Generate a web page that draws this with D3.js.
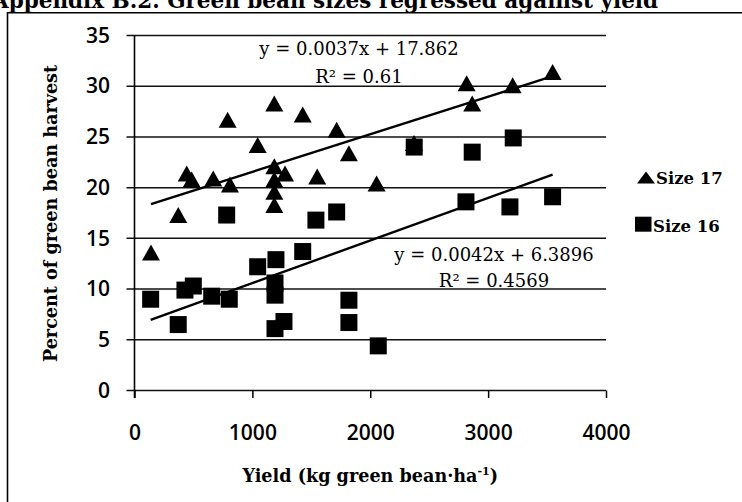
<!DOCTYPE html>
<html>
<head>
<meta charset="utf-8">
<script src="https://cdn.jsdelivr.net/npm/d3@7"></script>
<style>
  html, body { margin: 0; padding: 0; background: #fff; }
  svg { display: block; }
</style>
</head>
<body>
<svg id="chart" width="742" height="502"></svg>
<script>
// Size 17 beans: yield (kg/ha) and percent of harvest
const yieldSize17 = [140, 371, 443, 485, 668, 790, 810, 1045, 1186, 1186, 1186, 1186, 1186, 1277, 1427, 1550, 1715, 1819, 2054, 2371, 2818, 2865, 3208, 3547];
const pctSize17   = [13.6, 17.3, 21.4, 20.8, 20.9, 26.7, 20.3, 24.2, 28.3, 22.1, 20.8, 19.6, 18.3, 21.4, 27.2, 21.1, 25.7, 23.4, 20.4, 24.4, 30.3, 28.3, 30.1, 31.4];

// Size 16 beans
const yieldSize16 = [137, 371, 428, 499, 655, 782, 804, 1045, 1192, 1192, 1192, 1200, 1268, 1427, 1539, 1715, 1819, 1819, 2068, 2373, 2812, 2865, 3185, 3213, 3547];
const pctSize16   = [9.0, 6.5, 9.9, 10.3, 9.3, 17.3, 9.0, 12.2, 10.6, 9.4, 6.1, 12.9, 6.8, 13.7, 16.8, 17.6, 8.9, 6.7, 4.4, 24.0, 18.6, 23.5, 18.1, 24.9, 19.1];

// Linear trend fits: [slope, intercept, R²]
const fitSize17 = [0.0037, 17.862, 0.61];
const fitSize16 = [0.0042, 6.3896, 0.4569];

const xTicks = [0, 1000, 2000, 3000, 4000];
const yTicks = [0, 5, 10, 15, 20, 25, 30, 35];

const seriesNames = ["Size 17", "Size 16"];

const svg = d3.select("#chart");
const W = 742, H = 502;

// Page title (runs off the top edge) and chart frame
svg.append("text")
  .attr("x", -8).attr("y", 8)
  .attr("font-family", "DejaVu Serif").attr("font-weight", "bold")
  .attr("font-size", 21.5).attr("fill", "#000")
  .text("Appendix B.2. Green bean sizes regressed against yield");

svg.append("path")
  .attr("d", `M7.5,${H} L7.5,12.7 L${W},12.7`)
  .attr("fill", "none").attr("stroke", "#000").attr("stroke-width", 1.6);

const plot = { left: 134.5, right: 606, top: 35.5, bottom: 390.5 };

const x = d3.scaleLinear().domain([0, 4000]).range([plot.left, plot.right]);
const y = d3.scaleLinear().domain([0, 35]).range([plot.bottom, plot.top]);

const g = svg.append("g");

// Horizontal gridlines (extend a little past the axis like tick marks)
g.selectAll("line.grid").data(yTicks).join("line")
  .attr("class", "grid")
  .attr("x1", plot.left - 8).attr("x2", plot.right)
  .attr("y1", d => y(d)).attr("y2", d => y(d))
  .attr("stroke", "#111").attr("stroke-width", 1.5);

// Y axis labels
const yAxis = g.append("g")
  .attr("transform", `translate(${plot.left},0)`)
  .call(d3.axisLeft(y).tickValues(yTicks).tickSize(0).tickPadding(24.5));
yAxis.select(".domain").remove();
yAxis.selectAll("text")
  .attr("font-family", "Open Sans").attr("font-weight", 600)
  .attr("font-size", 21).attr("fill", "#000");

// Y axis line
g.append("line")
  .attr("x1", plot.left).attr("x2", plot.left)
  .attr("y1", plot.top).attr("y2", plot.bottom + 7.5)
  .attr("stroke", "#000").attr("stroke-width", 1.6);

// X axis ticks and labels
const xAxis = g.append("g")
  .attr("transform", `translate(0,${plot.bottom})`)
  .call(d3.axisBottom(x).tickValues(xTicks).tickFormat(d3.format("d")).tickSize(7.5));
xAxis.select(".domain").remove();
xAxis.selectAll(".tick line").attr("stroke", "#000").attr("stroke-width", 1.5);
xAxis.selectAll("text")
  .attr("dy", null).attr("y", 49.5)
  .attr("font-family", "Open Sans").attr("font-weight", 600)
  .attr("font-size", 21).attr("fill", "#000");

// Axis titles
svg.append("text")
  .attr("transform", `translate(57,213.5) rotate(-90)`)
  .attr("text-anchor", "middle")
  .attr("font-family", "DejaVu Serif").attr("font-weight", "bold")
  .attr("font-size", 17.6).attr("fill", "#000")
  .text("Percent of green bean harvest");

const xt = svg.append("text")
  .attr("x", (plot.left + plot.right) / 2).attr("y", 481.5)
  .attr("text-anchor", "middle")
  .attr("font-family", "DejaVu Serif").attr("font-weight", "bold")
  .attr("font-size", 17.6).attr("fill", "#000");
xt.append("tspan").text("Yield (kg green bean\u00B7ha");
xt.append("tspan").attr("dy", -7).attr("font-size", 11).text("-1");
xt.append("tspan").attr("dy", 7).text(")");

// Trend lines, drawn across each series' yield range
function trend(xs, fit) {
  const [m, b] = fit;
  const x0 = d3.min(xs), x1 = d3.max(xs);
  return [[x0, m * x0 + b], [x1, m * x1 + b]];
}
const line = d3.line().x(d => x(d[0])).y(d => y(d[1]));

// Markers
const triW = 18, triH = 16, sq = 17;
const triPath = (cx, cy, w, h) =>
  `M${cx},${cy - h / 2} L${cx + w / 2},${cy + h / 2} L${cx - w / 2},${cy + h / 2} Z`;

g.selectAll("path.s17").data(d3.zip(yieldSize17, pctSize17)).join("path")
  .attr("class", "s17")
  .attr("d", d => triPath(x(d[0]), y(d[1]), triW, triH))
  .attr("fill", "#000");

g.selectAll("rect.s16").data(d3.zip(yieldSize16, pctSize16)).join("rect")
  .attr("class", "s16")
  .attr("x", d => x(d[0]) - sq / 2).attr("y", d => y(d[1]) - sq / 2)
  .attr("width", sq).attr("height", sq)
  .attr("fill", "#000");

g.append("path").attr("d", line(trend(yieldSize17, fitSize17)))
  .attr("fill", "none").attr("stroke", "#000").attr("stroke-width", 2.4);
g.append("path").attr("d", line(trend(yieldSize16, fitSize16)))
  .attr("fill", "none").attr("stroke", "#000").attr("stroke-width", 2.4);

// Equation labels
function eqLabel(cx, y1, y2, fit) {
  const [m, b, r2] = fit;
  const t = svg.append("g")
    .attr("font-family", "DejaVu Serif").attr("font-size", 18)
    .attr("fill", "#000").attr("text-anchor", "middle");
  t.append("text").attr("x", cx).attr("y", y1).text(`y = ${m}x + ${b}`);
  t.append("text").attr("x", cx).attr("y", y2).text(`R\u00B2 = ${r2}`);
}
eqLabel(359, 55, 83, fitSize17);
eqLabel(494, 261, 287, fitSize16);

// Legend
const leg = svg.append("g");
leg.append("path").attr("d", triPath(646, 177.5, 18, 12)).attr("fill", "#000");
leg.append("rect").attr("x", 635).attr("y", 216.7).attr("width", 16.5).attr("height", 15).attr("fill", "#000");
leg.selectAll("text").data(seriesNames).join("text")
  .attr("x", (d, i) => i === 0 ? 656 : 653)
  .attr("y", (d, i) => i === 0 ? 183.5 : 231.7)
  .attr("font-family", "DejaVu Serif").attr("font-weight", "bold")
  .attr("font-size", 16.5).attr("fill", "#000")
  .text(d => d);
</script>
</body>
</html>
